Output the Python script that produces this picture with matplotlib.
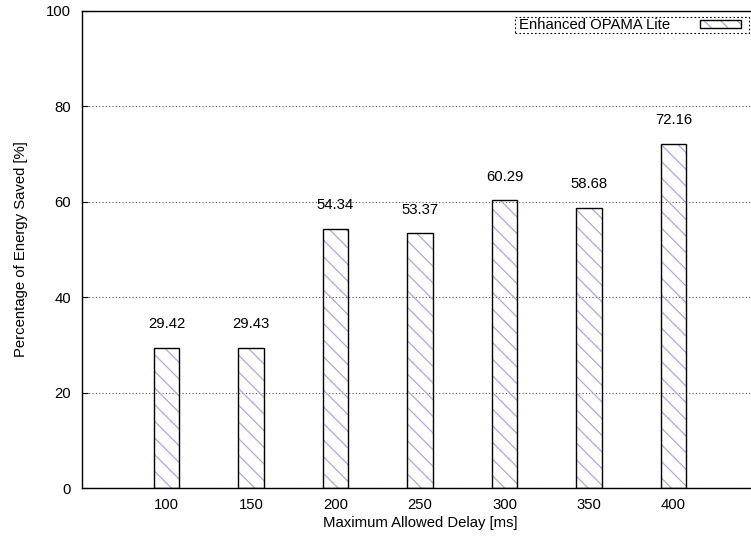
import matplotlib
matplotlib.use("Agg")
import matplotlib.pyplot as plt
from matplotlib.patches import Patch, Rectangle
from matplotlib.legend_handler import HandlerBase

delays = [100, 150, 200, 250, 300, 350, 400]
energy_saved = [29.42, 29.43, 54.34, 53.37, 60.29, 58.68, 72.16]
series_name = "Enhanced OPAMA Lite"
y_ticks = [0, 20, 40, 60, 80, 100]

plt.rcParams["font.family"] = ["Liberation Sans", "DejaVu Sans"]
plt.rcParams["hatch.linewidth"] = 0.9

hatch_col = "#bba3e0"
fs = 10.7
W, H = 751, 540

fig = plt.figure(figsize=(7.51, 5.40), dpi=100)
ax = fig.add_axes([82 / W, 1 - 488 / H, (758 - 82) / W, (488 - 11) / H])

bar_w = 15
# hatched fill drawn first, black outline on top
ax.bar(delays, energy_saved, width=bar_w, color="none", edgecolor=hatch_col,
       hatch="\\\\", linewidth=0, zorder=2)
ax.bar(delays, energy_saved, width=bar_w, color="none", edgecolor="black",
       linewidth=1.0, zorder=3)

for x, v in zip(delays, energy_saved):
    ax.text(x, v + 5, f"{v:.2f}", ha="center", va="center", fontsize=fs, zorder=4)

ax.set_xlim(50, 450)
ax.set_ylim(0, 100)
ax.set_xticks(delays)
ax.set_yticks(y_ticks)
ax.tick_params(axis="x", length=0, pad=7, labelsize=fs)
ax.tick_params(axis="y", direction="in", length=4, width=0.8, pad=8, labelsize=fs)
ax.yaxis.grid(True, linestyle=(0, (1, 2)), color="#555555", linewidth=0.8, zorder=1)
ax.set_axisbelow(True)

for side in ("top", "left", "bottom"):
    ax.spines[side].set_linewidth(1.0)
ax.spines["right"].set_visible(False)

ax.set_xlabel("Maximum Allowed Delay [ms]", fontsize=fs, labelpad=3)
ax.set_ylabel("Percentage of Energy Saved [%]", fontsize=fs, labelpad=13)


class HatchBoxHandler(HandlerBase):
    def create_artists(self, legend, orig_handle, xdescent, ydescent,
                       width, height, fontsize, trans):
        fill = Rectangle((-xdescent, -ydescent), width, height, facecolor="none",
                         edgecolor=hatch_col, hatch="\\\\", linewidth=0,
                         transform=trans)
        edge = Rectangle((-xdescent, -ydescent), width, height, facecolor="none",
                         edgecolor="black", linewidth=1.0, transform=trans)
        return [fill, edge]


leg = fig.legend([Patch()], [series_name], loc="center right",
                 bbox_to_anchor=(741 / W, 1 - 25 / H),
                 bbox_transform=fig.transFigure, borderaxespad=0,
                 markerfirst=False, handlelength=2.75, handleheight=0.42,
                 handletextpad=2.05, borderpad=0.0, fontsize=fs,
                 frameon=False, handler_map={Patch: HatchBoxHandler()})

# dotted key box
key_box = Rectangle((515 / W, 1 - 33 / H), (749 - 515) / W, 16 / H,
                    transform=fig.transFigure, facecolor="none",
                    edgecolor="black", linewidth=0.8, linestyle=(0, (1.5, 2)))
fig.add_artist(key_box)

fig.savefig("out.png", dpi=100)
